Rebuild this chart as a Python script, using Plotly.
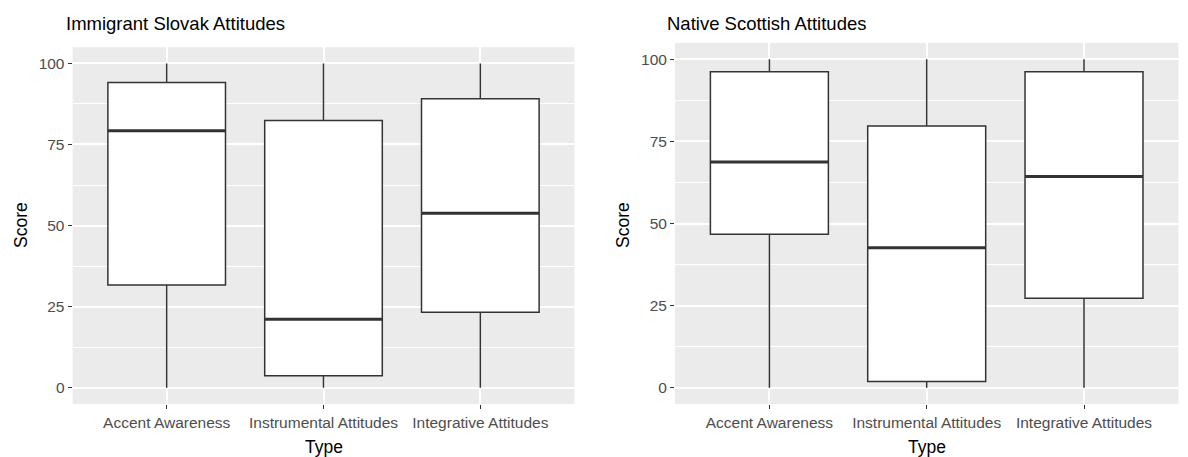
import plotly.graph_objects as go

# Box-plot summaries of attitude scores by type, per group
types = ["Accent Awareness", "Instrumental Attitudes", "Integrative Attitudes"]

slovak_min = [0, 0, 0]
slovak_q1 = [31.7, 3.7, 23.3]
slovak_median = [79.2, 21.1, 53.8]
slovak_q3 = [94.1, 82.4, 89.1]
slovak_max = [100, 100, 100]

scottish_min = [0, 0, 0]
scottish_q1 = [46.7, 1.9, 27.2]
scottish_median = [68.7, 42.6, 64.3]
scottish_q3 = [96.2, 79.7, 96.2]
scottish_max = [100, 100, 100]

y_ticks = [0, 25, 50, 75, 100]

BOX_W = 0.75
LINE = "#333333"
FONT = "Liberation Sans, Arial, sans-serif"

fig = go.Figure()

panels = [
    ("x", "y", slovak_min, slovak_q1, slovak_median, slovak_q3, slovak_max),
    ("x2", "y2", scottish_min, scottish_q1, scottish_median, scottish_q3, scottish_max),
]

pos = list(range(len(types)))
for xa, ya, lo, q1, med, q3, hi in panels:
    fig.add_trace(go.Box(
        x=pos, q1=q1, median=med, q3=q3, lowerfence=lo, upperfence=hi,
        width=BOX_W, whiskerwidth=0, fillcolor="white",
        line=dict(color=LINE, width=1.5), boxpoints=False,
        xaxis=xa, yaxis=ya, showlegend=False, hoverinfo="skip",
    ))
    # heavier median bars, as in ggplot's geom_boxplot
    mx, my = [], []
    for p, m in zip(pos, med):
        mx += [p - BOX_W / 2, p + BOX_W / 2, None]
        my += [m, m, None]
    fig.add_trace(go.Scatter(
        x=mx, y=my, mode="lines", line=dict(color=LINE, width=3),
        xaxis=xa, yaxis=ya, showlegend=False, hoverinfo="skip",
    ))

W, H = 1188, 457

def xdom(l, r):
    return [l / W, r / W]

def ydom(top, bottom):
    return [1 - bottom / H, 1 - top / H]

xaxis_common = dict(
    range=[-0.6, 2.6], tickvals=pos, ticktext=types,
    showgrid=True, gridcolor="white", gridwidth=1.5, zeroline=False,
    ticks="outside", ticklen=4, tickwidth=1, tickcolor=LINE,
    tickfont=dict(family=FONT, size=15.5, color="#4D4D4D"),
    showline=False, fixedrange=True,
)
yaxis_common = dict(
    range=[-5, 105], tickvals=y_ticks,
    showgrid=True, gridcolor="white", gridwidth=1.5, zeroline=False,
    minor=dict(tickvals=[12.5, 37.5, 62.5, 87.5], showgrid=True,
               gridcolor="white", gridwidth=0.7, ticks=""),
    ticks="outside", ticklen=4, tickwidth=1, tickcolor=LINE,
    tickfont=dict(family=FONT, size=15.5, color="#4D4D4D"),
    showline=False, fixedrange=True,
)

fig.update_layout(
    width=W, height=H,
    margin=dict(l=0, r=0, t=0, b=0),
    paper_bgcolor="white", plot_bgcolor="#EBEBEB",
    xaxis=dict(domain=xdom(72.6, 574.4), anchor="y", **xaxis_common),
    yaxis=dict(domain=ydom(47.2, 403.9), anchor="x", **yaxis_common),
    xaxis2=dict(domain=xdom(675, 1178.4), anchor="y2", **xaxis_common),
    yaxis2=dict(domain=ydom(42.9, 404.1), anchor="x2", **yaxis_common),
    font=dict(family=FONT),
)

def ann(text, x, y, size, color="black", angle=0, xanchor="center"):
    fig.add_annotation(
        text=text, x=x / W, y=1 - y / H, xref="paper", yref="paper",
        showarrow=False, textangle=angle, xanchor=xanchor, yanchor="middle",
        font=dict(family=FONT, size=size, color=color),
    )

# panel titles
ann("Immigrant Slovak Attitudes", 64, 23, 18.5, xanchor="left")
ann("Native Scottish Attitudes", 665, 23, 18.5, xanchor="left")
# axis titles
ann("Score", 21, 225, 17.5, angle=-90)
ann("Score", 623, 225, 17.5, angle=-90)
ann("Type", 323.5, 447, 17.5)
ann("Type", 927, 447, 17.5)

fig.write_html("out.html")
